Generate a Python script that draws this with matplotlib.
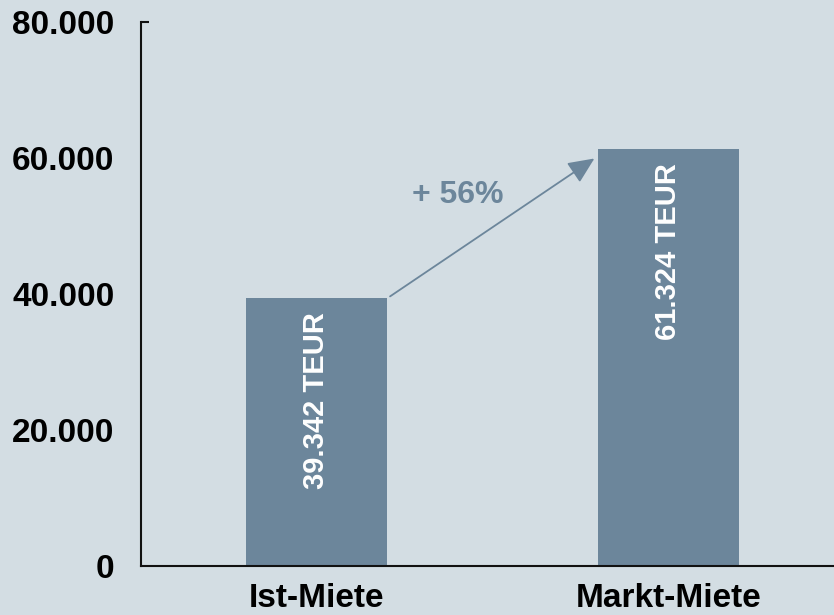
import matplotlib
matplotlib.use("Agg")
import matplotlib.pyplot as plt
from matplotlib.ticker import FuncFormatter

categories = ["Ist-Miete", "Markt-Miete"]
values = [39342, 61324]
y_ticks = [0, 20000, 40000, 60000, 80000]

bg = "#d3dde3"
bar_color = "#6c869b"

plt.rcParams["font.family"] = ["Liberation Sans", "DejaVu Sans"]
plt.rcParams["font.weight"] = "bold"


def de_thousands(v, _pos=None):
    return f"{int(round(v)):,}".replace(",", ".")


fig = plt.figure(figsize=(8.34, 6.15), dpi=100, facecolor=bg)
ax = fig.add_axes([0.169, 0.0797, 0.831, 0.8846], facecolor=bg)

x = list(range(len(categories)))
ax.bar(x, values, width=0.4, color=bar_color, zorder=2)

ax.set_xlim(-0.497, 1.47)
ax.set_ylim(0, 80000)

# axes styling
for side in ("top", "right"):
    ax.spines[side].set_visible(False)
for side in ("left", "bottom"):
    ax.spines[side].set_color("#111111")
    ax.spines[side].set_linewidth(1.5)

ax.set_yticks(y_ticks)
ax.yaxis.set_major_formatter(FuncFormatter(de_thousands))
ax.tick_params(axis="y", which="major", length=0, pad=19, labelsize=24)
# short inward cap at the top of the value axis
ax.plot([0, 0.011], [y_ticks[-1], y_ticks[-1]], transform=ax.get_yaxis_transform(),
        color="#111111", lw=1.5, clip_on=False, solid_capstyle="butt", zorder=4)
ax.set_xticks(x)
ax.set_xticklabels(categories)
ax.tick_params(axis="x", length=0, pad=12, labelsize=24)
for lab in ax.get_xticklabels() + ax.get_yticklabels():
    lab.set_fontweight("bold")

# value labels inside the bars
for xi, v in zip(x, values):
    ax.annotate(f"{de_thousands(v)} TEUR", xy=(xi, v), xytext=(0, -10),
                textcoords="offset points", rotation=90, ha="center", va="top",
                color="white", fontsize=21, fontweight="bold", zorder=3)

# growth arrow between the bars
growth = values[1] / values[0] - 1
ax.annotate("", xy=(0.79, values[1] - 1400), xytext=(0.21, values[0] + 300),
            arrowprops=dict(arrowstyle="-|>,head_length=1.0,head_width=0.45",
                            mutation_scale=16, color=bar_color, lw=1.3,
                            shrinkA=0, shrinkB=0), zorder=3)
ax.text(0.403, 54560, f"+ {growth * 100:.0f}%", ha="center", va="center",
        color=bar_color, fontsize=23, fontweight="bold")

fig.savefig("out.png", dpi=100, facecolor=bg)
